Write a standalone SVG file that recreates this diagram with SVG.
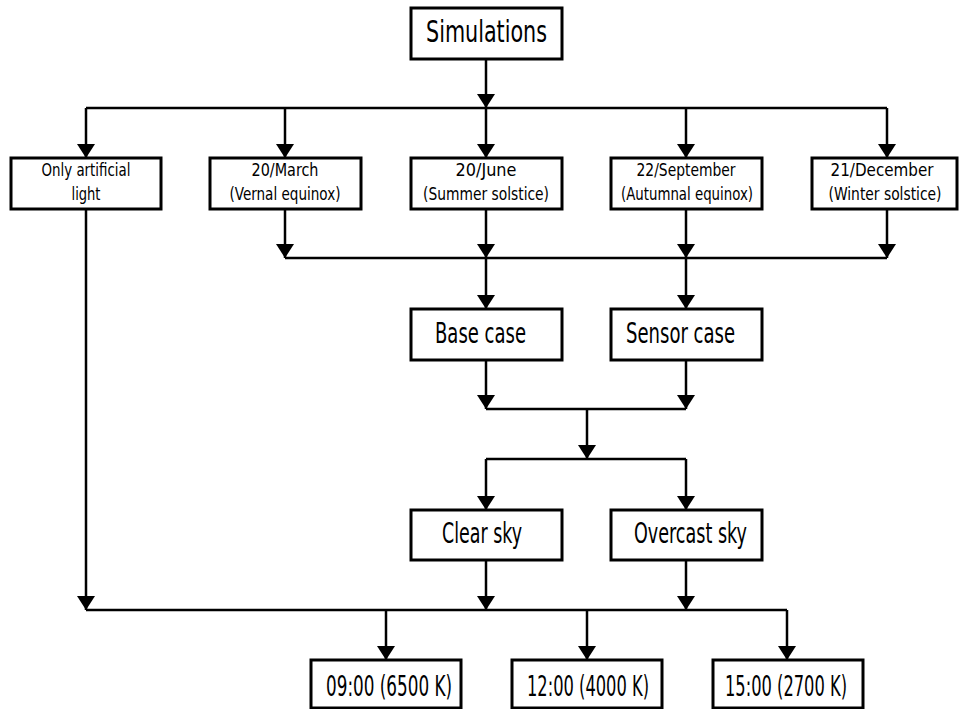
<svg xmlns="http://www.w3.org/2000/svg" width="960" height="709" viewBox="0 0 960 709">
<style>
.box{fill:#fff;stroke:#000;stroke-width:3}
.t{font-family:"DejaVu Sans Condensed","DejaVu Sans","Liberation Sans",sans-serif;font-stretch:condensed;fill:#000;text-anchor:middle}
.s{font-size:18px}
.m{font-size:28px}
.l{font-size:31px}
.c{fill:none;stroke:#000;stroke-width:2.5}
</style>
<defs>
<marker id="ah" viewBox="0 -9 14 18" refX="14" refY="0" markerWidth="14" markerHeight="18" markerUnits="userSpaceOnUse" orient="auto">
<path d="M0,-9 L14,0 L0,9 z" fill="#000"/>
</marker>
</defs>
<rect width="960" height="709" fill="#fff"/>
<g id="connectors">
<path class="c" d="M486,59 V108" marker-end="url(#ah)"/>
<path class="c" d="M86,108 H887"/>
<path class="c" d="M86,108 V158" marker-end="url(#ah)"/>
<path class="c" d="M285,108 V158" marker-end="url(#ah)"/>
<path class="c" d="M486,108 V158" marker-end="url(#ah)"/>
<path class="c" d="M686,108 V158" marker-end="url(#ah)"/>
<path class="c" d="M887,108 V158" marker-end="url(#ah)"/>
<path class="c" d="M285,209 V258" marker-end="url(#ah)"/>
<path class="c" d="M486,209 V258" marker-end="url(#ah)"/>
<path class="c" d="M686,209 V258" marker-end="url(#ah)"/>
<path class="c" d="M887,209 V258" marker-end="url(#ah)"/>
<path class="c" d="M285,258 H887"/>
<path class="c" d="M486,258 V309" marker-end="url(#ah)"/>
<path class="c" d="M686,258 V309" marker-end="url(#ah)"/>
<path class="c" d="M486,360 V409" marker-end="url(#ah)"/>
<path class="c" d="M686,360 V409" marker-end="url(#ah)"/>
<path class="c" d="M486,409 H686"/>
<path class="c" d="M587,409 V459" marker-end="url(#ah)"/>
<path class="c" d="M486,459 H686"/>
<path class="c" d="M486,459 V510" marker-end="url(#ah)"/>
<path class="c" d="M686,459 V510" marker-end="url(#ah)"/>
<path class="c" d="M486,560 V610" marker-end="url(#ah)"/>
<path class="c" d="M686,560 V610" marker-end="url(#ah)"/>
<path class="c" d="M86,209 V610" marker-end="url(#ah)"/>
<path class="c" d="M86,610 H787"/>
<path class="c" d="M386,610 V660" marker-end="url(#ah)"/>
<path class="c" d="M587,610 V660" marker-end="url(#ah)"/>
<path class="c" d="M787,610 V660" marker-end="url(#ah)"/>
</g>
<g id="simulations">
<rect class="box" x="411" y="8" width="151" height="51"/>
<text class="t l" x="486.5" y="42" textLength="121" lengthAdjust="spacingAndGlyphs">Simulations</text>
</g>
<g id="only-artificial">
<rect class="box" x="11" y="158" width="150" height="51"/>
<text class="t s" x="86" y="176" textLength="89" lengthAdjust="spacingAndGlyphs">Only artificial</text>
<text class="t s" x="86" y="200" textLength="29" lengthAdjust="spacingAndGlyphs">light</text>
</g>
<g id="march">
<rect class="box" x="210" y="158" width="151" height="51"/>
<text class="t s" x="285" y="176" textLength="67" lengthAdjust="spacingAndGlyphs">20/March</text>
<text class="t s" x="285" y="200" textLength="111" lengthAdjust="spacingAndGlyphs">(Vernal equinox)</text>
</g>
<g id="june">
<rect class="box" x="411" y="158" width="151" height="51"/>
<text class="t s" x="486" y="176" textLength="61" lengthAdjust="spacingAndGlyphs">20/June</text>
<text class="t s" x="486" y="200" textLength="126" lengthAdjust="spacingAndGlyphs">(Summer solstice)</text>
</g>
<g id="september">
<rect class="box" x="611" y="158" width="151" height="51"/>
<text class="t s" x="686" y="176" textLength="99" lengthAdjust="spacingAndGlyphs">22/September</text>
<text class="t s" x="687" y="200" textLength="132" lengthAdjust="spacingAndGlyphs">(Autumnal equinox)</text>
</g>
<g id="december">
<rect class="box" x="812" y="158" width="145" height="51"/>
<text class="t s" x="882" y="176" textLength="103" lengthAdjust="spacingAndGlyphs">21/December</text>
<text class="t s" x="885" y="200" textLength="113" lengthAdjust="spacingAndGlyphs">(Winter solstice)</text>
</g>
<g id="base-case">
<rect class="box" x="411" y="309" width="151" height="51"/>
<text class="t m" x="480.5" y="343" textLength="91" lengthAdjust="spacingAndGlyphs">Base case</text>
</g>
<g id="sensor-case">
<rect class="box" x="611" y="309" width="151" height="51"/>
<text class="t m" x="680.5" y="343" textLength="109" lengthAdjust="spacingAndGlyphs">Sensor case</text>
</g>
<g id="clear-sky">
<rect class="box" x="411" y="510" width="151" height="50"/>
<text class="t m" x="482" y="543" textLength="80" lengthAdjust="spacingAndGlyphs">Clear sky</text>
</g>
<g id="overcast-sky">
<rect class="box" x="611" y="510" width="151" height="50"/>
<text class="t m" x="690.5" y="543" textLength="113" lengthAdjust="spacingAndGlyphs">Overcast sky</text>
</g>
<g id="t0900">
<rect class="box" x="311" y="660" width="150" height="48"/>
<text class="t m" x="389" y="696" textLength="126" lengthAdjust="spacingAndGlyphs">09:00 (6500 K)</text>
</g>
<g id="t1200">
<rect class="box" x="512" y="660" width="150" height="48"/>
<text class="t m" x="588" y="696" textLength="122" lengthAdjust="spacingAndGlyphs">12:00 (4000 K)</text>
</g>
<g id="t1500">
<rect class="box" x="713" y="660" width="150" height="48"/>
<text class="t m" x="786" y="696" textLength="122" lengthAdjust="spacingAndGlyphs">15:00 (2700 K)</text>
</g>
</svg>
